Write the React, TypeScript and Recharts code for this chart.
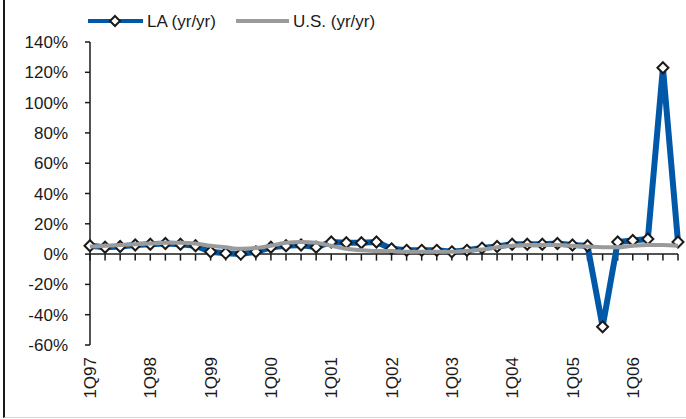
import { LineChart, Line, XAxis, YAxis, ReferenceLine } from 'recharts';

const quarters = [
  '1Q97', '2Q97', '3Q97', '4Q97', '1Q98', '2Q98', '3Q98', '4Q98',
  '1Q99', '2Q99', '3Q99', '4Q99', '1Q00', '2Q00', '3Q00', '4Q00',
  '1Q01', '2Q01', '3Q01', '4Q01', '1Q02', '2Q02', '3Q02', '4Q02',
  '1Q03', '2Q03', '3Q03', '4Q03', '1Q04', '2Q04', '3Q04', '4Q04',
  '1Q05', '2Q05', '3Q05', '4Q05', '1Q06', '2Q06', '3Q06', '4Q06'
];

const laValues = [
  5.5, 4.5, 5, 6, 6.5, 7, 6.5, 5.5, 1.5, 0.5, 0, 1.5, 4.5, 5.5, 6, 4.5,
  8, 7.5, 7.5, 8, 3.5, 2.5, 2.5, 2.5, 1.5, 2.5, 4, 5, 6.5, 6.5, 6.5, 7,
  6, 5.5, -48, 8, 9, 10, 123, 8
];

const usValues = [
  5, 5.5, 6, 6.5, 7, 7.5, 7.5, 7, 5.5, 4.5, 3.5, 4, 5.5, 7.5, 8, 7.5,
  5.5, 3.5, 2.5, 2, 2, 1.5, 1.5, 1.5, 1.5, 2, 3, 4.5, 5.5, 6, 6, 6,
  5.5, 5, 4.5, 4.5, 5.5, 6, 6, 5.5
];

const yTicks = [-60, -40, -20, 0, 20, 40, 60, 80, 100, 120, 140];
const xLabels = quarters.filter((_, i) => i % 4 === 0);

const data = quarters.map((q, i) => ({ q, la: laValues[i], us: usValues[i] }));

const BLUE = '#0059a8';
const GRAY = '#9b9b9b';
const INK = '#1a1a1a';
const FONT = '"Liberation Sans", Arial, sans-serif';

function Diamond(props: any) {
  const { cx, cy } = props;
  if (cx == null || cy == null) return null;
  const r = 5.5;
  return (
    <polygon
      points={`${cx},${cy - r} ${cx + r},${cy} ${cx},${cy + r} ${cx - r},${cy}`}
      fill="#fff"
      stroke={INK}
      strokeWidth={2}
    />
  );
}

function QuarterTick(props: any) {
  const { x, y, payload } = props;
  return (
    <text
      x={x}
      y={y}
      transform={`rotate(-90, ${x}, ${y})`}
      textAnchor="end"
      dy="0.36em"
      fontSize={17}
      fontFamily={FONT}
      fill={INK}
    >
      {payload.value}
    </text>
  );
}

function LegendBar() {
  return (
    <svg width={400} height={40} style={{ position: 'absolute', left: 0, top: 0 }}>
      <line x1={88} x2={143} y1={21} y2={21} stroke={BLUE} strokeWidth={4} />
      <polygon points="115,16 120,21 115,26 110,21" fill="#fff" stroke={INK} strokeWidth={2} />
      <text x={147} y={27} fontSize={17} fontFamily={FONT} fill={INK}>LA (yr/yr)</text>
      <line x1={236} x2={289} y1={21} y2={21} stroke={GRAY} strokeWidth={4} />
      <text x={293} y={27} fontSize={17} fontFamily={FONT} fill={INK}>U.S. (yr/yr)</text>
    </svg>
  );
}

export default function App() {
  return (
    <div style={{ position: 'absolute', left: 0, top: 0, width: 686, height: 419, background: '#fff' }}>
      <div
        style={{
          position: 'absolute',
          left: 3,
          top: 0,
          width: 683,
          height: 417,
          borderLeft: `2px solid ${INK}`,
          borderBottom: '1px solid #d4d4d4'
        }}
      />
      <div style={{ position: 'absolute', left: 0, top: 0 }}>
        <LineChart width={686} height={419} data={data} margin={{ top: 42, right: 8, bottom: 0, left: 0 }}>
          <XAxis
            dataKey="q"
            ticks={xLabels}
            interval={0}
            axisLine={false}
            tickLine={false}
            tickSize={6}
            tickMargin={6}
            tick={<QuarterTick />}
            height={74}
          />
          <YAxis
            domain={[-60, 140]}
            ticks={yTicks}
            interval={0}
            width={90}
            tickSize={5}
            tickMargin={17}
            tickFormatter={(v: number) => `${v}%`}
            axisLine={{ stroke: INK, strokeWidth: 1.5 }}
            tickLine={{ stroke: INK, strokeWidth: 1.5 }}
            tick={{ fontSize: 17, fontFamily: FONT, fill: INK }}
          />
          <ReferenceLine y={0} stroke={INK} strokeWidth={1.5} />
          {quarters.map((q) => (
            <ReferenceLine
              key={q}
              segment={[{ x: q, y: 0 }, { x: q, y: -4.3 }]}
              stroke={INK}
              strokeWidth={1.5}
            />
          ))}
          <Line
            dataKey="la"
            type="linear"
            stroke={BLUE}
            strokeWidth={6}
            dot={<Diamond />}
            isAnimationActive={false}
          />
          <Line
            dataKey="us"
            type="monotone"
            stroke={GRAY}
            strokeWidth={4}
            dot={false}
            zIndex={1000}
            isAnimationActive={false}
          />
        </LineChart>
      </div>
      <LegendBar />
    </div>
  );
}
